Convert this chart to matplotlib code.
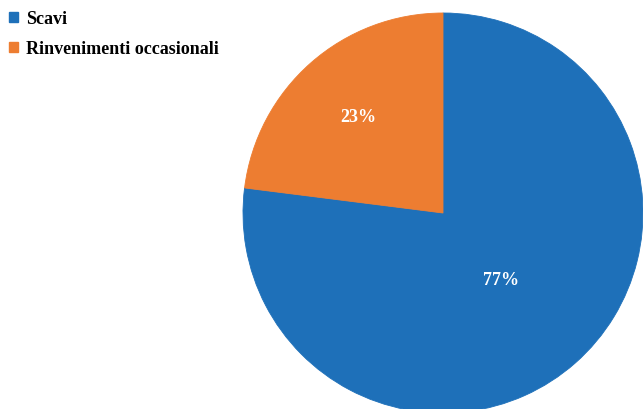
import numpy as np
import matplotlib.pyplot as plt
from matplotlib.patches import Patch

labels = ['Scavi', 'Rinvenimenti occasionali']
values = [77, 23]
colors = ['#1e70b9', '#ed7d31']
pct_dist = [0.44, 0.64]

plt.rcParams['font.family'] = ['Liberation Serif', 'DejaVu Serif']

fig = plt.figure(figsize=(6.43, 4.10), dpi=100)
ax = fig.add_axes([243 / 643, -4 / 410, 400 / 643, 400 / 410])

wedges, _ = ax.pie(values, colors=colors, startangle=90, counterclock=False,
                   radius=1, wedgeprops=dict(linewidth=0.6))
for w, c in zip(wedges, colors):
    w.set_edgecolor(c)

total = sum(values)
for w, v, d in zip(wedges, values, pct_dist):
    mid = np.deg2rad((w.theta1 + w.theta2) / 2)
    ax.text(d * np.cos(mid), d * np.sin(mid), f'{round(100 * v / total)}%',
            ha='center', va='center', color='white', fontsize=13, fontweight='bold')

ax.set_xlim(-1, 1)
ax.set_ylim(-1, 1)
ax.set_aspect('equal')
ax.axis('off')

handles = [Patch(facecolor=c, edgecolor=c) for c in colors]
fig.legend(handles, labels, loc='upper left', bbox_to_anchor=(0.0, 0.995),
           frameon=False, prop=dict(size=13, weight='bold'),
           handlelength=0.5, handleheight=0.5, handletextpad=0.45,
           labelspacing=0.72, borderaxespad=0.3, borderpad=0.2)

fig.savefig('out.png', dpi=100)
